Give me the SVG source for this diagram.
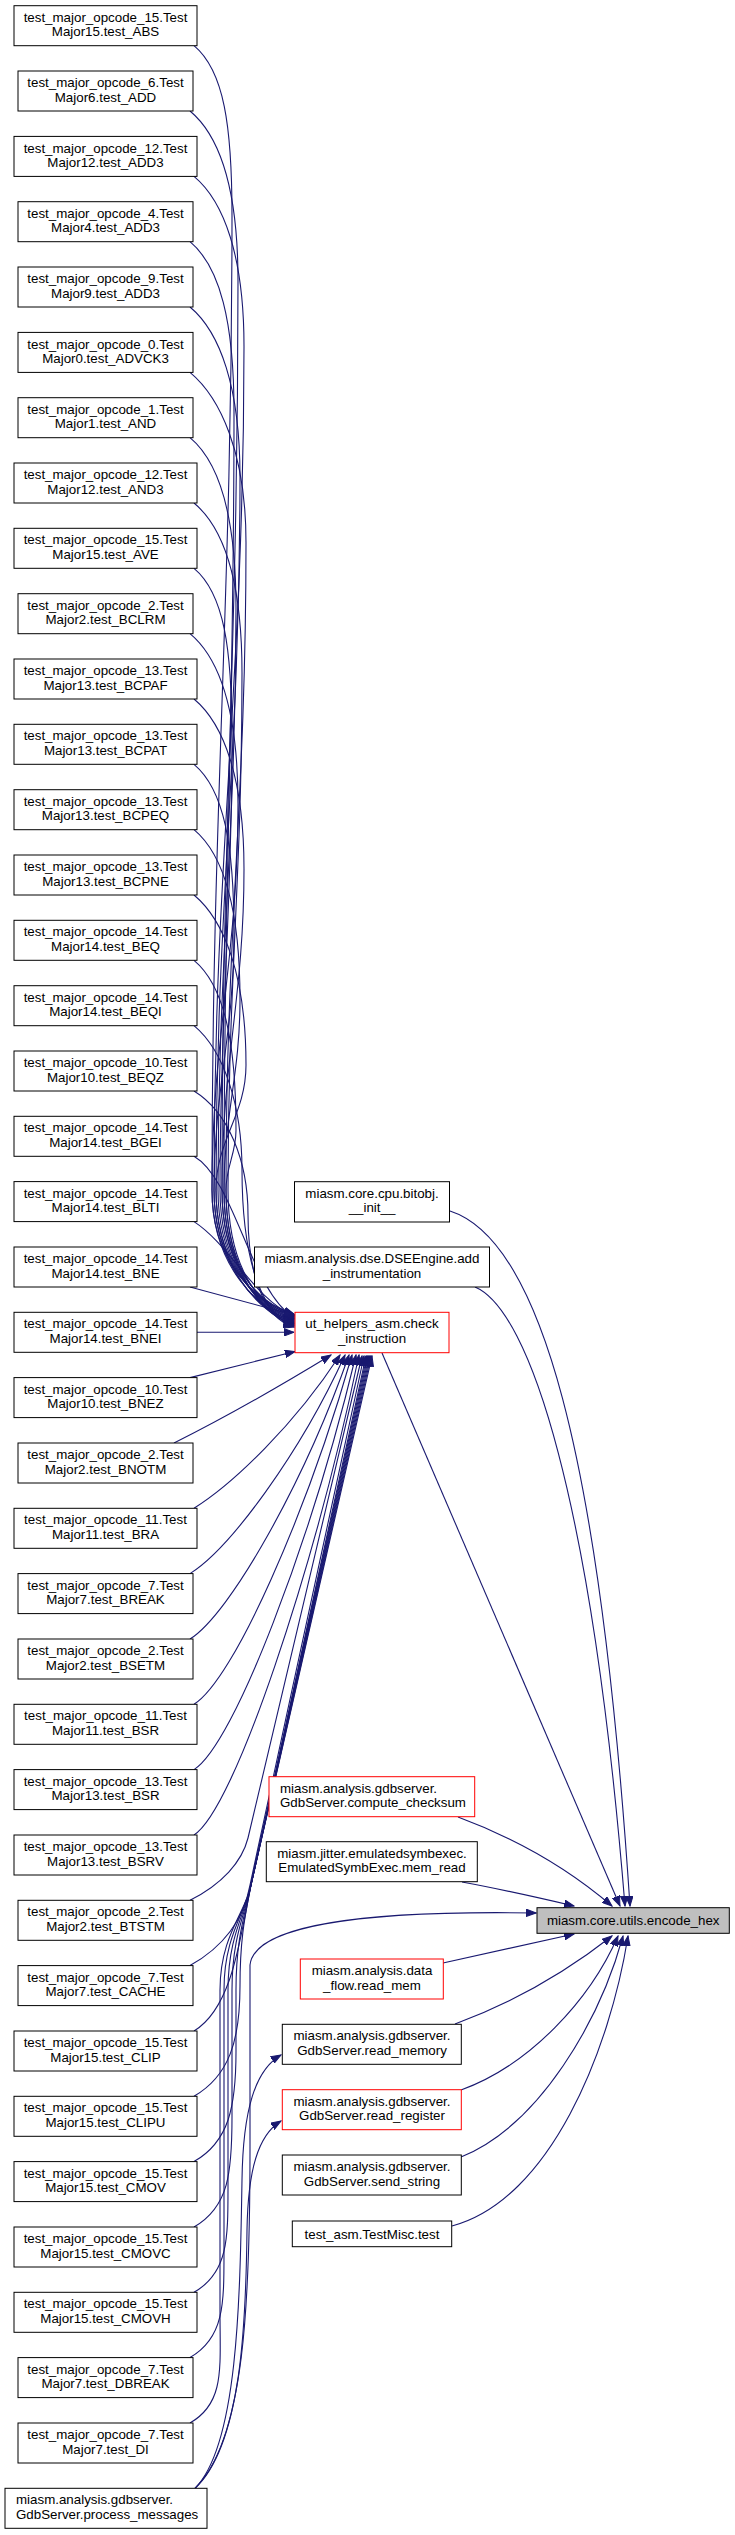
<svg xmlns="http://www.w3.org/2000/svg" width="735" height="2535" viewBox="0 0 735 2535">
<style>
.n rect{fill:#fff;stroke:#000;stroke-width:1}
.n.r rect{stroke:#f00}
.n.g rect{fill:#bfbfbf}
text{font-family:"Liberation Sans",Arial,Helvetica,sans-serif;font-size:13.33px;fill:#000}
.c text{text-anchor:middle}
#edges path{fill:none;stroke:#191970;stroke-width:1.1;marker-end:url(#a)}
</style>
<defs>
<marker id="a" markerUnits="userSpaceOnUse" markerWidth="11" markerHeight="8" refX="10" refY="3.75" orient="auto" viewBox="0 0 11 7.5">
<path d="M0,0 L10,3.75 L0,7.5 Z" fill="#191970" stroke="#191970" stroke-width="1"/>
</marker>
</defs>
<rect width="735" height="2535" fill="#fff"/>
<g id="edges">
<path d="M194,45.7 C224,70.7 232,125.7 232,215.7 C232,605.4 212,800.3 212,1190 C212,1265 257,1302 294,1314"/>
<path d="M190,111 C220,136 238,191 238,281 C238,644.6 222,826.4 222,1190 C222,1265 257,1302.8 294,1314.8"/>
<path d="M194,176.4 C224,201.4 244,256.4 244,346.4 C244,683.8 214,852.6 214,1190 C214,1265 257,1303.6 294,1315.6"/>
<path d="M190,241.7 C220,266.7 234,321.7 234,411.7 C234,723 224,878.7 224,1190 C224,1265 257,1304.4 294,1316.4"/>
<path d="M190,307 C220,332 240,387 240,477 C240,762.2 216,904.8 216,1190 C216,1265 257,1305.2 294,1317.2"/>
<path d="M190,372.4 C220,397.4 246,452.4 246,542.4 C246,801.4 226,931 226,1190 C226,1265 257,1306 294,1318"/>
<path d="M190,437.7 C220,462.7 236,517.7 236,607.7 C236,840.6 218,957.1 218,1190 C218,1265 257,1306.8 294,1318.8"/>
<path d="M194,503 C224,528 242,583 242,673 C242,879.8 228,983.2 228,1190 C228,1265 257,1307.6 294,1319.6"/>
<path d="M194,568.3 C224,593.3 232,648.3 232,738.3 C232,919 220,1009.3 220,1190 C220,1265 257,1308.4 294,1320.4"/>
<path d="M190,633.7 C220,658.7 238,713.7 238,803.7 C238,958.2 212,1035.5 212,1190 C212,1265 257,1309.2 294,1321.2"/>
<path d="M194,699 C224,724 244,779 244,869 C244,997.4 222,1061.6 222,1190 C222,1265 257,1310 294,1322"/>
<path d="M194,764.3 C224,789.3 234,844.3 234,934.3 C234,1036.6 214,1087.7 214,1190 C214,1265 257,1310.8 294,1322.8"/>
<path d="M194,829.7 C224,854.7 240,909.7 240,999.7 C240,1075.8 224,1113.9 224,1190 C224,1265 257,1311.6 294,1323.6"/>
<path d="M194,895 C224,920 246,975 246,1065 C246,1115 216,1140 216,1190 C216,1265 257,1312.4 294,1324.4"/>
<path d="M194,960.3 C224,985.3 236,1040.3 236,1130.3 C236,1154.2 226,1166.1 226,1190 C226,1265 257,1313.2 294,1325.2"/>
<path d="M194,1025.7 C224,1050.7 242,1105.7 242,1170 C242,1250 258,1314 294,1326"/>
<path d="M194,1091 C228,1112 248,1160 248,1215 C248,1270 262,1318 294,1327"/>
<path d="M194,1156.3 C235,1180 250,1290 294,1318"/>
<path d="M194,1221.6 C230,1245 255,1300 294,1316"/>
<path d="M190,1287 L294,1315"/>
<path d="M197,1332.3 L294,1332.3"/>
<path d="M190,1377.6 L295,1351.5"/>
<path d="M174,1443 C230,1415 290,1380 331,1355"/>
<path d="M194,1508.3 C234,1483.3 295,1424 340,1355"/>
<path d="M190,1573.6 C230,1548.6 300,1453.4 345,1355"/>
<path d="M190,1639 C230,1614 304,1482.8 349,1355"/>
<path d="M194,1704.3 C234,1679.3 307,1512.2 352,1355"/>
<path d="M194,1769.6 C234,1744.6 311,1541.6 356,1355"/>
<path d="M194,1835 C234,1810 314,1571 359,1355"/>
<path d="M190,1900.3 C222,1884 242,1862 248,1838 L362,1356"/>
<path d="M190,1965.6 C225,1946 244,1918 250,1885 L364,1356"/>
<path d="M194,2031 C232,2008 240,1940 251,1885 L366,1356"/>
<path d="M194,2096.3 C229,2076 240,2041 240,1986 C240,1935 246,1912 251,1885 L367,1356"/>
<path d="M194,2161.6 C229,2141.6 236,2106.6 236,2051.6 L236,1990 C236,1935 246,1912 251,1885 L368,1356"/>
<path d="M194,2227 C229,2207 232,2172 232,2117 L232,1990 C232,1935 246,1912 251,1885 L369,1356"/>
<path d="M194,2292.3 C229,2272.3 228,2237.3 228,2182.3 L228,1990 C228,1935 246,1912 251,1885 L370,1356"/>
<path d="M190,2357.6 C225,2337.6 224,2302.6 224,2247.6 L224,1990 C224,1935 246,1912 251,1885 L371,1356"/>
<path d="M190,2423 C225,2403 220,2368 220,2313 L220,1990 C220,1935 246,1912 251,1885 L372,1356"/>
<path d="M195,2488.3 C245,2440 250,2300 250,2150 L250,1965 C254,1928 350,1910 536,1913"/>
<path d="M195,2488.3 C238,2445 240,2300 242,2180 C243,2110 255,2070 281,2055"/>
<path d="M195,2488.3 C242,2445 246,2320 247,2230 C248,2170 258,2135 281,2121"/>
<path d="M382,1353 L620,1906"/>
<path d="M450,1211 C540,1240 600,1450 630,1906"/>
<path d="M475,1287 C530,1310 592,1500 625,1906"/>
<path d="M458,1817 C520,1840 570,1870 612,1906"/>
<path d="M462,1882 C500,1889 540,1898 574,1906"/>
<path d="M443,1963 C490,1953 535,1943 574,1934"/>
<path d="M455,2024 C520,2000 575,1965 612,1936"/>
<path d="M461,2090 C530,2065 590,2000 618,1936"/>
<path d="M461,2157 C540,2125 600,2020 623,1936"/>
<path d="M452,2226 C550,2200 610,2050 628,1936"/>
</g>
<g id="n0" class="n c" transform="translate(0,5.7)"><rect x="14" y="0" width="183" height="40"/><text x="105.5" y="16.2">test_major_opcode_15.Test</text><text x="105.5" y="30.8">Major15.test_ABS</text></g>
<g id="n1" class="n c" transform="translate(0,71)"><rect x="18" y="0" width="175" height="40"/><text x="105.5" y="16.2">test_major_opcode_6.Test</text><text x="105.5" y="30.8">Major6.test_ADD</text></g>
<g id="n2" class="n c" transform="translate(0,136.4)"><rect x="14" y="0" width="183" height="40"/><text x="105.5" y="16.2">test_major_opcode_12.Test</text><text x="105.5" y="30.8">Major12.test_ADD3</text></g>
<g id="n3" class="n c" transform="translate(0,201.7)"><rect x="18" y="0" width="175" height="40"/><text x="105.5" y="16.2">test_major_opcode_4.Test</text><text x="105.5" y="30.8">Major4.test_ADD3</text></g>
<g id="n4" class="n c" transform="translate(0,267)"><rect x="18" y="0" width="175" height="40"/><text x="105.5" y="16.2">test_major_opcode_9.Test</text><text x="105.5" y="30.8">Major9.test_ADD3</text></g>
<g id="n5" class="n c" transform="translate(0,332.4)"><rect x="18" y="0" width="175" height="40"/><text x="105.5" y="16.2">test_major_opcode_0.Test</text><text x="105.5" y="30.8">Major0.test_ADVCK3</text></g>
<g id="n6" class="n c" transform="translate(0,397.7)"><rect x="18" y="0" width="175" height="40"/><text x="105.5" y="16.2">test_major_opcode_1.Test</text><text x="105.5" y="30.8">Major1.test_AND</text></g>
<g id="n7" class="n c" transform="translate(0,463)"><rect x="14" y="0" width="183" height="40"/><text x="105.5" y="16.2">test_major_opcode_12.Test</text><text x="105.5" y="30.8">Major12.test_AND3</text></g>
<g id="n8" class="n c" transform="translate(0,528.3)"><rect x="14" y="0" width="183" height="40"/><text x="105.5" y="16.2">test_major_opcode_15.Test</text><text x="105.5" y="30.8">Major15.test_AVE</text></g>
<g id="n9" class="n c" transform="translate(0,593.7)"><rect x="18" y="0" width="175" height="40"/><text x="105.5" y="16.2">test_major_opcode_2.Test</text><text x="105.5" y="30.8">Major2.test_BCLRM</text></g>
<g id="n10" class="n c" transform="translate(0,659)"><rect x="14" y="0" width="183" height="40"/><text x="105.5" y="16.2">test_major_opcode_13.Test</text><text x="105.5" y="30.8">Major13.test_BCPAF</text></g>
<g id="n11" class="n c" transform="translate(0,724.3)"><rect x="14" y="0" width="183" height="40"/><text x="105.5" y="16.2">test_major_opcode_13.Test</text><text x="105.5" y="30.8">Major13.test_BCPAT</text></g>
<g id="n12" class="n c" transform="translate(0,789.7)"><rect x="14" y="0" width="183" height="40"/><text x="105.5" y="16.2">test_major_opcode_13.Test</text><text x="105.5" y="30.8">Major13.test_BCPEQ</text></g>
<g id="n13" class="n c" transform="translate(0,855)"><rect x="14" y="0" width="183" height="40"/><text x="105.5" y="16.2">test_major_opcode_13.Test</text><text x="105.5" y="30.8">Major13.test_BCPNE</text></g>
<g id="n14" class="n c" transform="translate(0,920.3)"><rect x="14" y="0" width="183" height="40"/><text x="105.5" y="16.2">test_major_opcode_14.Test</text><text x="105.5" y="30.8">Major14.test_BEQ</text></g>
<g id="n15" class="n c" transform="translate(0,985.7)"><rect x="14" y="0" width="183" height="40"/><text x="105.5" y="16.2">test_major_opcode_14.Test</text><text x="105.5" y="30.8">Major14.test_BEQI</text></g>
<g id="n16" class="n c" transform="translate(0,1051)"><rect x="14" y="0" width="183" height="40"/><text x="105.5" y="16.2">test_major_opcode_10.Test</text><text x="105.5" y="30.8">Major10.test_BEQZ</text></g>
<g id="n17" class="n c" transform="translate(0,1116.3)"><rect x="14" y="0" width="183" height="40"/><text x="105.5" y="16.2">test_major_opcode_14.Test</text><text x="105.5" y="30.8">Major14.test_BGEI</text></g>
<g id="n18" class="n c" transform="translate(0,1181.6)"><rect x="14" y="0" width="183" height="40"/><text x="105.5" y="16.2">test_major_opcode_14.Test</text><text x="105.5" y="30.8">Major14.test_BLTI</text></g>
<g id="n19" class="n c" transform="translate(0,1247)"><rect x="14" y="0" width="183" height="40"/><text x="105.5" y="16.2">test_major_opcode_14.Test</text><text x="105.5" y="30.8">Major14.test_BNE</text></g>
<g id="n20" class="n c" transform="translate(0,1312.3)"><rect x="14" y="0" width="183" height="40"/><text x="105.5" y="16.2">test_major_opcode_14.Test</text><text x="105.5" y="30.8">Major14.test_BNEI</text></g>
<g id="n21" class="n c" transform="translate(0,1377.6)"><rect x="14" y="0" width="183" height="40"/><text x="105.5" y="16.2">test_major_opcode_10.Test</text><text x="105.5" y="30.8">Major10.test_BNEZ</text></g>
<g id="n22" class="n c" transform="translate(0,1443)"><rect x="18" y="0" width="175" height="40"/><text x="105.5" y="16.2">test_major_opcode_2.Test</text><text x="105.5" y="30.8">Major2.test_BNOTM</text></g>
<g id="n23" class="n c" transform="translate(0,1508.3)"><rect x="14" y="0" width="183" height="40"/><text x="105.5" y="16.2">test_major_opcode_11.Test</text><text x="105.5" y="30.8">Major11.test_BRA</text></g>
<g id="n24" class="n c" transform="translate(0,1573.6)"><rect x="18" y="0" width="175" height="40"/><text x="105.5" y="16.2">test_major_opcode_7.Test</text><text x="105.5" y="30.8">Major7.test_BREAK</text></g>
<g id="n25" class="n c" transform="translate(0,1639)"><rect x="18" y="0" width="175" height="40"/><text x="105.5" y="16.2">test_major_opcode_2.Test</text><text x="105.5" y="30.8">Major2.test_BSETM</text></g>
<g id="n26" class="n c" transform="translate(0,1704.3)"><rect x="14" y="0" width="183" height="40"/><text x="105.5" y="16.2">test_major_opcode_11.Test</text><text x="105.5" y="30.8">Major11.test_BSR</text></g>
<g id="n27" class="n c" transform="translate(0,1769.6)"><rect x="14" y="0" width="183" height="40"/><text x="105.5" y="16.2">test_major_opcode_13.Test</text><text x="105.5" y="30.8">Major13.test_BSR</text></g>
<g id="n28" class="n c" transform="translate(0,1835)"><rect x="14" y="0" width="183" height="40"/><text x="105.5" y="16.2">test_major_opcode_13.Test</text><text x="105.5" y="30.8">Major13.test_BSRV</text></g>
<g id="n29" class="n c" transform="translate(0,1900.3)"><rect x="18" y="0" width="175" height="40"/><text x="105.5" y="16.2">test_major_opcode_2.Test</text><text x="105.5" y="30.8">Major2.test_BTSTM</text></g>
<g id="n30" class="n c" transform="translate(0,1965.6)"><rect x="18" y="0" width="175" height="40"/><text x="105.5" y="16.2">test_major_opcode_7.Test</text><text x="105.5" y="30.8">Major7.test_CACHE</text></g>
<g id="n31" class="n c" transform="translate(0,2031)"><rect x="14" y="0" width="183" height="40"/><text x="105.5" y="16.2">test_major_opcode_15.Test</text><text x="105.5" y="30.8">Major15.test_CLIP</text></g>
<g id="n32" class="n c" transform="translate(0,2096.3)"><rect x="14" y="0" width="183" height="40"/><text x="105.5" y="16.2">test_major_opcode_15.Test</text><text x="105.5" y="30.8">Major15.test_CLIPU</text></g>
<g id="n33" class="n c" transform="translate(0,2161.6)"><rect x="14" y="0" width="183" height="40"/><text x="105.5" y="16.2">test_major_opcode_15.Test</text><text x="105.5" y="30.8">Major15.test_CMOV</text></g>
<g id="n34" class="n c" transform="translate(0,2227)"><rect x="14" y="0" width="183" height="40"/><text x="105.5" y="16.2">test_major_opcode_15.Test</text><text x="105.5" y="30.8">Major15.test_CMOVC</text></g>
<g id="n35" class="n c" transform="translate(0,2292.3)"><rect x="14" y="0" width="183" height="40"/><text x="105.5" y="16.2">test_major_opcode_15.Test</text><text x="105.5" y="30.8">Major15.test_CMOVH</text></g>
<g id="n36" class="n c" transform="translate(0,2357.6)"><rect x="18" y="0" width="175" height="40"/><text x="105.5" y="16.2">test_major_opcode_7.Test</text><text x="105.5" y="30.8">Major7.test_DBREAK</text></g>
<g id="n37" class="n c" transform="translate(0,2423)"><rect x="18" y="0" width="175" height="40"/><text x="105.5" y="16.2">test_major_opcode_7.Test</text><text x="105.5" y="30.8">Major7.test_DI</text></g>
<g id="process_messages" class="n" transform="translate(0,2488.3)"><rect x="5" y="0" width="202" height="40"/><text x="16" y="16.2">miasm.analysis.gdbserver.</text><text x="16" y="30.8">GdbServer.process_messages</text></g>
<g id="bitobj_init" class="n c" transform="translate(0,1181.7)"><rect x="294.5" y="0" width="155" height="40.3"/><text x="372" y="16.2">miasm.core.cpu.bitobj.</text><text x="372" y="30.8">__init__</text></g>
<g id="add_instrumentation" class="n c" transform="translate(0,1247)"><rect x="254.5" y="0" width="235" height="40"/><text x="372" y="16.2">miasm.analysis.dse.DSEEngine.add</text><text x="372" y="30.8">_instrumentation</text></g>
<g id="check_instruction" class="n r c" transform="translate(0,1312.3)"><rect x="295" y="0" width="154" height="40.4"/><text x="372" y="16.2">ut_helpers_asm.check</text><text x="372" y="30.8">_instruction</text></g>
<g id="compute_checksum" class="n r" transform="translate(0,1776.7)"><rect x="269" y="0" width="205.7" height="40"/><text x="280" y="16.2">miasm.analysis.gdbserver.</text><text x="280" y="30.8">GdbServer.compute_checksum</text></g>
<g id="mem_read" class="n c" transform="translate(0,1841.7)"><rect x="266.3" y="0" width="211" height="40"/><text x="372" y="16.2">miasm.jitter.emulatedsymbexec.</text><text x="372" y="30.8">EmulatedSymbExec.mem_read</text></g>
<g id="encode_hex" class="n g c" transform="translate(0,1907.7)"><rect x="537" y="0" width="192.3" height="25.6"/><text x="633.2" y="17.6">miasm.core.utils.encode_hex</text></g>
<g id="read_mem" class="n r c" transform="translate(0,1959)"><rect x="300.3" y="0" width="143" height="40"/><text x="372" y="16.2">miasm.analysis.data</text><text x="372" y="30.8">_flow.read_mem</text></g>
<g id="read_memory" class="n c" transform="translate(0,2024.3)"><rect x="282.3" y="0" width="179" height="40"/><text x="372" y="16.2">miasm.analysis.gdbserver.</text><text x="372" y="30.8">GdbServer.read_memory</text></g>
<g id="read_register" class="n r c" transform="translate(0,2089.7)"><rect x="282.3" y="0" width="179" height="40"/><text x="372" y="16.2">miasm.analysis.gdbserver.</text><text x="372" y="30.8">GdbServer.read_register</text></g>
<g id="send_string" class="n c" transform="translate(0,2155)"><rect x="282.3" y="0" width="179" height="40"/><text x="372" y="16.2">miasm.analysis.gdbserver.</text><text x="372" y="30.8">GdbServer.send_string</text></g>
<g id="testmisc_test" class="n c" transform="translate(0,2221)"><rect x="292.3" y="0" width="159.4" height="25.7"/><text x="372" y="17.6">test_asm.TestMisc.test</text></g>
</svg>
